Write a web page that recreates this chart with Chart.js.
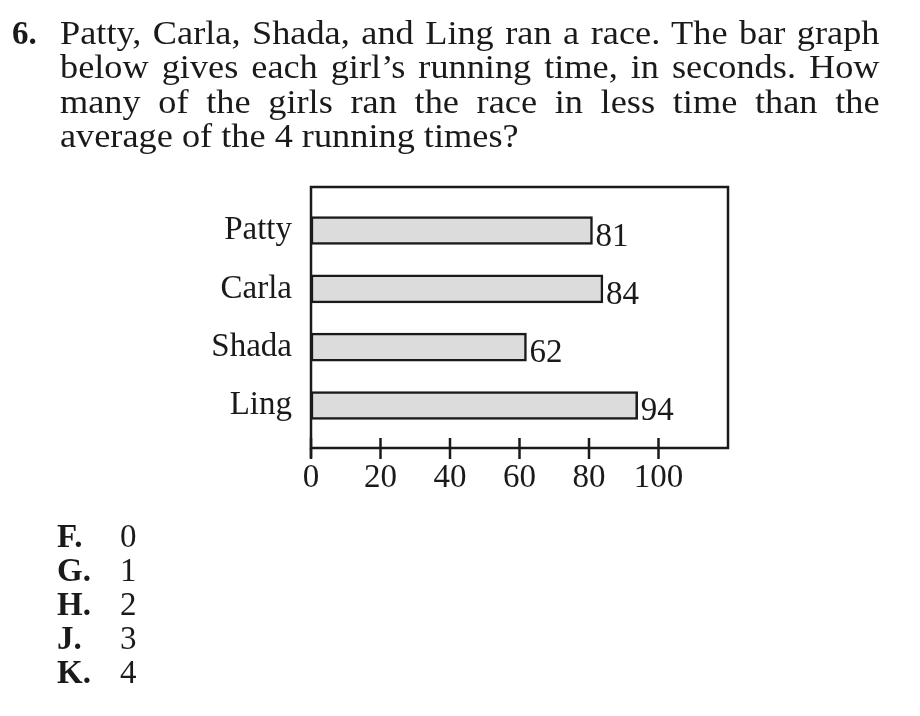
<!DOCTYPE html>
<html>
<head>
<meta charset="utf-8">
<script src="https://cdn.jsdelivr.net/npm/chart.js@4.4.0/dist/chart.umd.min.js"></script>
<style>
html,body{margin:0;padding:0;background:#fff;}
#wrap{position:relative;width:920px;height:716px;overflow:hidden;background:#fff;}
#c{position:absolute;left:0;top:0;}
.t{position:absolute;font-family:"Liberation Serif","Times New Roman",serif;font-size:33px;line-height:34px;color:#1a1a1a;white-space:nowrap;}
.q{left:60px;width:745px;transform:scaleX(1.1);transform-origin:0 0;}
.j{white-space:normal;text-align:justify;text-align-last:justify;}
.b{font-weight:bold;}
</style>
</head>
<body>
<div id="wrap">
  <canvas id="c" width="920" height="716"></canvas>
  <div class="t b" style="left:12px;top:16px;">6.</div>
  <div class="t q j" style="top:16px;">Patty, Carla, Shada, and Ling ran a race. The bar graph</div>
  <div class="t q j" style="top:50px;">below gives each girl’s running time, in seconds. How</div>
  <div class="t q j" style="top:85px;">many of the girls ran the race in less time than the</div>
  <div class="t q" style="top:119px;">average of the 4 running times?</div>

  <div class="t b" style="left:57px;top:519px;">F.</div><div class="t" style="left:120px;top:519px;">0</div>
  <div class="t b" style="left:57px;top:553px;">G.</div><div class="t" style="left:120px;top:553px;">1</div>
  <div class="t b" style="left:57px;top:587px;">H.</div><div class="t" style="left:120px;top:587px;">2</div>
  <div class="t b" style="left:57px;top:621px;">J.</div><div class="t" style="left:120px;top:621px;">3</div>
  <div class="t b" style="left:57px;top:655px;">K.</div><div class="t" style="left:120px;top:655px;">4</div>
</div>
<script>
const girls = ['Patty', 'Carla', 'Shada', 'Ling'];
const times = [81, 84, 62, 94];
const xTicks = [0, 20, 40, 60, 80, 100];

const INK = '#1a1a1a';
const FONT = 'Liberation Serif';

const framePlugin = {
  id: 'frame',
  afterDraw(chart) {
    const {ctx, chartArea: a} = chart;
    const x = chart.scales.x;
    ctx.save();
    ctx.strokeStyle = INK;
    ctx.lineWidth = 2.5;
    ctx.strokeRect(a.left, a.top, a.right - a.left, a.bottom - a.top);
    ctx.beginPath();
    ctx.moveTo(a.left, a.bottom);
    ctx.lineTo(a.left, a.bottom + 10);
    ctx.stroke();
    xTicks.forEach(v => {
      const px = x.getPixelForValue(v);
      ctx.beginPath();
      ctx.moveTo(px, a.bottom - 10);
      ctx.lineTo(px, a.bottom + 11);
      ctx.stroke();
    });
    const meta = chart.getDatasetMeta(0);
    ctx.font = '33px "' + FONT + '"';
    ctx.fillStyle = INK;
    ctx.textAlign = 'left';
    ctx.textBaseline = 'alphabetic';
    meta.data.forEach((bar, i) => {
      ctx.fillText(String(times[i]), bar.x + 3, bar.y + 15);
    });
    ctx.restore();
  }
};

new Chart(document.getElementById('c'), {
  type: 'bar',
  data: {
    datasets: [{
      data: times.map((t, i) => ({x: t, y: i})),
      backgroundColor: '#dcdcdc',
      borderColor: INK,
      borderWidth: 2.5,
      borderSkipped: false,
      barThickness: 28
    }]
  },
  options: {
    indexAxis: 'y',
    responsive: false,
    animation: false,
    devicePixelRatio: 1,
    layout: {padding: {left: 0, top: 187, right: 192, bottom: 0}},
    plugins: {legend: {display: false}, tooltip: {enabled: false}},
    scales: {
      x: {
        type: 'linear',
        min: 0,
        max: 120,
        offset: false,
        ticks: {stepSize: 20, padding: 11, color: INK, font: {family: FONT, size: 33}},
        afterBuildTicks: s => { s.ticks = xTicks.map(v => ({value: v})); },
        afterFit: s => { s.height = 268; },
        grid: {display: false, drawTicks: false},
        border: {display: false}
      },
      y: {
        type: 'linear',
        reverse: true,
        offset: false,
        min: -0.746,
        max: 3.729,
        ticks: {padding: 19, color: INK, font: {family: FONT, size: 33}, callback: v => girls[v]},
        afterBuildTicks: s => { s.ticks = girls.map((g, i) => ({value: i})); },
        afterFit: s => { s.width = 311; },
        grid: {display: false, drawTicks: false},
        border: {display: false}
      }
    }
  },
  plugins: [framePlugin]
});
</script>
</body>
</html>
